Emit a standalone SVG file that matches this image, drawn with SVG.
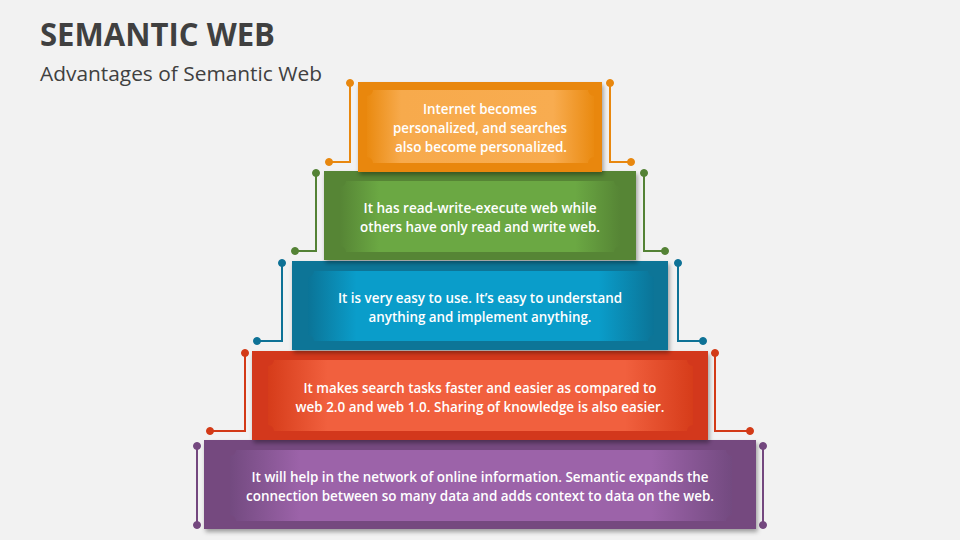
<svg xmlns="http://www.w3.org/2000/svg" width="960" height="540" viewBox="0 0 960 540">
<defs>
<style>
.title{font-family:"Open Sans","Liberation Sans",sans-serif;font-weight:700;font-size:32px;fill:#404040}
.sub{font-family:"Open Sans","Liberation Sans",sans-serif;font-size:19.5px;fill:#404040}
.t{font-family:"Open Sans","Liberation Sans",sans-serif;font-size:15px;font-weight:600;fill:#ffffff;text-anchor:middle}
.c{fill:none;stroke-width:2}
</style>
<filter id="sh" x="-5%" y="-10%" width="110%" height="125%">
<feDropShadow dx="1.5" dy="3" stdDeviation="2" flood-color="#000" flood-opacity="0.35"/>
</filter>
<linearGradient id="gO" x1="0" y1="0" x2="1" y2="0">
<stop offset="0" stop-color="#EA8A10"/><stop offset="0.15" stop-color="#F7AA4C"/><stop offset="0.82" stop-color="#F8AC50"/><stop offset="1" stop-color="#EA8A10"/>
</linearGradient>
<linearGradient id="gG" x1="0" y1="0" x2="1" y2="0">
<stop offset="0" stop-color="#568535"/><stop offset="0.14" stop-color="#6BA843"/><stop offset="0.84" stop-color="#6BA843"/><stop offset="1" stop-color="#568535"/>
</linearGradient>
<linearGradient id="gB" x1="0" y1="0" x2="1" y2="0">
<stop offset="0" stop-color="#0B7497"/><stop offset="0.14" stop-color="#0A9DCA"/><stop offset="0.84" stop-color="#0A9DCA"/><stop offset="1" stop-color="#0B7497"/>
</linearGradient>
<linearGradient id="gR" x1="0" y1="0" x2="1" y2="0">
<stop offset="0" stop-color="#D63C1A"/><stop offset="0.14" stop-color="#F1603E"/><stop offset="0.84" stop-color="#F1603E"/><stop offset="1" stop-color="#D63C1A"/>
</linearGradient>
<linearGradient id="gP" x1="0" y1="0" x2="1" y2="0">
<stop offset="0" stop-color="#734A80"/><stop offset="0.14" stop-color="#9C63A9"/><stop offset="0.84" stop-color="#9C63A9"/><stop offset="1" stop-color="#734A80"/>
</linearGradient>
</defs>
<rect width="960" height="540" fill="#F2F2F2"/>
<text class="title" x="40" y="46" textLength="235" lengthAdjust="spacingAndGlyphs">SEMANTIC WEB</text>
<text class="sub" x="40" y="81" textLength="282" lengthAdjust="spacingAndGlyphs">Advantages of Semantic Web</text>

<g id="connectors">
<g stroke="#E8870E" fill="#E8870E">
<polyline class="c" points="350,83 350,162 329,162"/><circle cx="350" cy="83" r="3.5"/><circle cx="329" cy="162" r="3.5"/>
<polyline class="c" points="610,83 610,162 631,162"/><circle cx="610" cy="83" r="3.5"/><circle cx="631" cy="162" r="3.5"/>
</g>
<g stroke="#548235" fill="#548235">
<polyline class="c" points="316,173 316,251 295,251"/><circle cx="316" cy="173" r="3.5"/><circle cx="295" cy="251" r="3.5"/>
<polyline class="c" points="644,173 644,251 665,251"/><circle cx="644" cy="173" r="3.5"/><circle cx="665" cy="251" r="3.5"/>
</g>
<g stroke="#0E7296" fill="#0E7296">
<polyline class="c" points="282,263 282,341 257,341"/><circle cx="282" cy="263" r="3.5"/><circle cx="257" cy="341" r="3.5"/>
<polyline class="c" points="678,263 678,341 703,341"/><circle cx="678" cy="263" r="3.5"/><circle cx="703" cy="341" r="3.5"/>
</g>
<g stroke="#D33A17" fill="#D33A17">
<polyline class="c" points="245,353 245,431 210,431"/><circle cx="245" cy="353" r="3.5"/><circle cx="210" cy="431" r="3.5"/>
<polyline class="c" points="715,353 715,431 750,431"/><circle cx="715" cy="353" r="3.5"/><circle cx="750" cy="431" r="3.5"/>
</g>
<g stroke="#74487F" fill="#74487F">
<line class="c" x1="197" y1="446" x2="197" y2="525"/><circle cx="197" cy="446" r="3.5"/><circle cx="197" cy="525" r="3.5"/>
<line class="c" x1="763" y1="446" x2="763" y2="525"/><circle cx="763" cy="446" r="3.5"/><circle cx="763" cy="525" r="3.5"/>
</g>
</g>

<g id="step5">
<rect x="204" y="440" width="552" height="89" fill="#74487F" filter="url(#sh)"/>
<path d="M236,450 H726 A6,6 0 0 0 732,456 V515 A6,6 0 0 0 726,521 H236 A6,6 0 0 0 230,515 V456 A6,6 0 0 0 236,450 Z" fill="url(#gP)"/>
<text class="t" x="480" y="482" textLength="457" lengthAdjust="spacingAndGlyphs">It will help in the network of online information. Semantic expands the</text>
<text class="t" x="480" y="501" textLength="468" lengthAdjust="spacingAndGlyphs">connection between so many data and adds context to data on the web.</text>
</g>

<g id="step4">
<rect x="252" y="351" width="456" height="89" fill="#D3391A" filter="url(#sh)"/>
<path d="M274,360 H687 A6,6 0 0 0 693,366 V425 A6,6 0 0 0 687,431 H274 A6,6 0 0 0 268,425 V366 A6,6 0 0 0 274,360 Z" fill="url(#gR)"/>
<text class="t" x="480" y="393" textLength="353" lengthAdjust="spacingAndGlyphs">It makes search tasks faster and easier as compared to</text>
<text class="t" x="480" y="412" textLength="369" lengthAdjust="spacingAndGlyphs">web 2.0 and web 1.0. Sharing of knowledge is also easier.</text>
</g>

<g id="step3">
<rect x="292" y="261" width="376" height="89" fill="#0B7497" filter="url(#sh)"/>
<path d="M314,271 H648 A6,6 0 0 0 654,277 V335 A6,6 0 0 0 648,341 H314 A6,6 0 0 0 308,335 V277 A6,6 0 0 0 314,271 Z" fill="url(#gB)"/>
<text class="t" x="480" y="303" textLength="284" lengthAdjust="spacingAndGlyphs">It is very easy to use. It’s easy to understand</text>
<text class="t" x="480" y="322" textLength="223" lengthAdjust="spacingAndGlyphs">anything and implement anything.</text>
</g>

<g id="step2">
<rect x="324" y="171" width="312" height="89" fill="#568535" filter="url(#sh)"/>
<path d="M346,181 H614 A6,6 0 0 0 620,187 V246 A6,6 0 0 0 614,252 H346 A6,6 0 0 0 340,246 V187 A6,6 0 0 0 346,181 Z" fill="url(#gG)"/>
<text class="t" x="480" y="213" textLength="233" lengthAdjust="spacingAndGlyphs">It has read-write-execute web while</text>
<text class="t" x="480" y="232" textLength="240" lengthAdjust="spacingAndGlyphs">others have only read and write web.</text>
</g>

<g id="step1">
<rect x="358" y="82" width="244" height="90" fill="#E9870C" filter="url(#sh)"/>
<path d="M373,90 H588 A6,6 0 0 0 594,96 V157 A6,6 0 0 0 588,163 H373 A6,6 0 0 0 367,157 V96 A6,6 0 0 0 373,90 Z" fill="url(#gO)"/>
<text class="t" x="480" y="114" textLength="114" lengthAdjust="spacingAndGlyphs">Internet becomes</text>
<text class="t" x="480" y="133" textLength="174" lengthAdjust="spacingAndGlyphs">personalized, and searches</text>
<text class="t" x="481" y="152" textLength="172" lengthAdjust="spacingAndGlyphs">also become personalized.</text>
</g>
</svg>
